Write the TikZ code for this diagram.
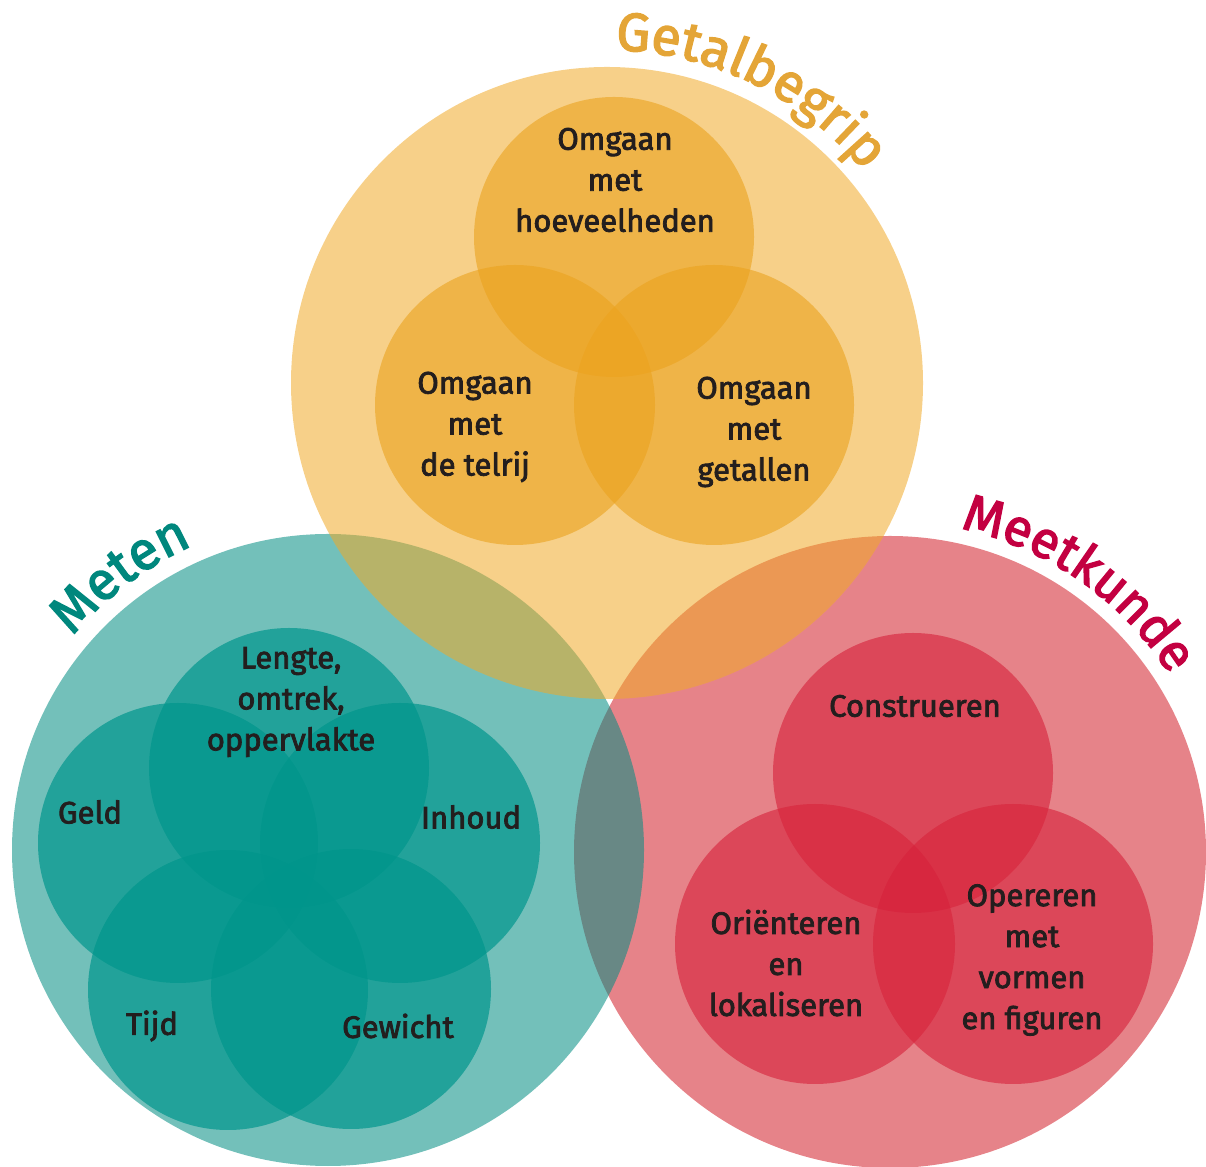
\documentclass[tikz,border=0pt]{standalone}
\usepackage{fontspec}
\setmainfont{Fira Sans}
\newfontfamily\medfont{Fira Sans}[FakeBold=2.5]
\usetikzlibrary{decorations.text,calc}
\definecolor{orB}{RGB}{240,170,40}
\definecolor{teB}{RGB}{0,140,130}
\definecolor{reB}{RGB}{210,30,40}
\definecolor{orS}{RGB}{235,162,30}
\definecolor{teS}{RGB}{0,150,140}
\definecolor{reS}{RGB}{215,35,60}
\definecolor{txt}{RGB}{35,30,30}
\definecolor{lblO}{RGB}{228,165,55}
\definecolor{lblT}{RGB}{0,135,125}
\definecolor{lblR}{RGB}{195,0,65}
\begin{document}
\begin{tikzpicture}[x=1pt,y=1pt,
  bigc/.style={circle,inner sep=0pt,minimum size=632pt,fill opacity=0.55},
  smallc/.style={circle,inner sep=0pt,minimum size=280pt},
  lbl/.style={align=center,text=txt,font=\medfont\fontsize{31}{41}\selectfont,inner sep=0pt}]
\useasboundingbox (0,0) rectangle (1206,1166);
% big circles (order: red, teal, orange)
\node[bigc,fill=reB] (bigR) at (890,314) {};
\node[bigc,fill=teB] (bigT) at (328,316) {};
\node[bigc,fill=orB] (bigO) at (607,783) {};
% Getalbegrip small circles
\node[smallc,fill=orS,fill opacity=0.6] (oTop) at (614,929) {};
\node[smallc,fill=orS,fill opacity=0.6] (oLeft) at (515,761) {};
\node[smallc,fill=orS,fill opacity=0.6] (oRight) at (714,761) {};
% Meten small circles
\node[smallc,fill=teS,fill opacity=0.7] (tLen) at (289,398) {};
\node[smallc,fill=teS,fill opacity=0.7] (tGeld) at (178,323) {};
\node[smallc,fill=teS,fill opacity=0.7] (tInh) at (400,323) {};
\node[smallc,fill=teS,fill opacity=0.7] (tTijd) at (228,176) {};
\node[smallc,fill=teS,fill opacity=0.7] (tGew) at (351,177) {};
% Meetkunde small circles
\node[smallc,fill=reS,fill opacity=0.62] (rTop) at (913,393) {};
\node[smallc,fill=reS,fill opacity=0.62] (rLeft) at (815,222) {};
\node[smallc,fill=reS,fill opacity=0.62] (rRight) at (1013,222) {};
% texts
\node[lbl] (x1) at (615,986) {Omgaan\\met\\hoeveelheden};
\node[lbl] (x2) at (475,739) {Omgaan\\met\\de telrij};
\node[lbl] (x3) at (754,734) {Omgaan\\met\\getallen};
\node[lbl] (x4) at (291,464) {Lengte,\\omtrek,\\oppervlakte};
\node[lbl] (x5) at (90,354) {Geld};
\node[lbl] (x6) at (471,349) {Inhoud};
\node[lbl] (x7) at (152,140) {Tijd};
\node[lbl] (x8) at (398,140) {Gewicht};
\node[lbl] (x9) at (915,460) {Construeren};
\node[lbl] (x10) at (786,203) {Oriënteren\\en\\lokaliseren};
\node[lbl] (x11) at (1032,206) {Opereren\\met\\vormen\\en figuren};
% curved titles
\path[decorate,decoration={text along path,text align=center,
  text={|\medfont\fontsize{54}{60}\selectfont\color{lblO}|Getalbegrip}}]
  ($(bigO)+(124:333)$) arc[start angle=124,end angle=4,radius=333];
\path[decorate,decoration={text along path,text align=center,
  text={|\medfont\fontsize{54}{60}\selectfont\color{lblT}|Meten}}]
  ($(bigT)+(187:333)$) arc[start angle=187,end angle=67,radius=333];
\path[decorate,decoration={text along path,text align=center,
  text={|\medfont\fontsize{52}{60}\selectfont\color{lblR}|Meetkunde}}]
  ($(bigR)+(115:331)$) arc[start angle=115,end angle=-5,radius=331];
\end{tikzpicture}
\end{document}
